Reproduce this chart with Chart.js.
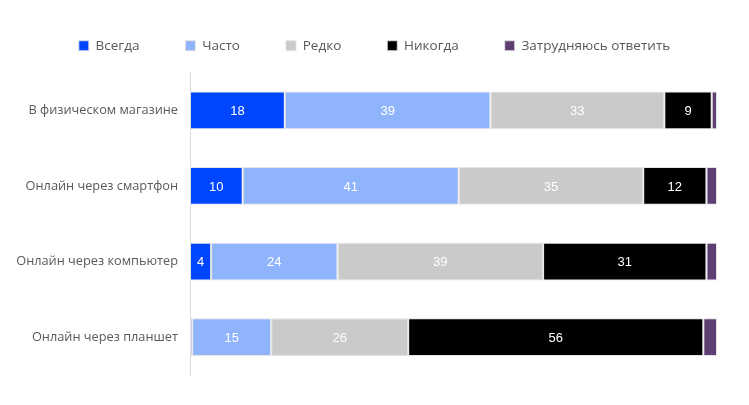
<!DOCTYPE html>
<html>
<head>
<meta charset="utf-8">
<script src="https://cdn.jsdelivr.net/npm/chart.js@4"></script>
<style>
  html, body { margin: 0; padding: 0; background: #fff; }
  #wrap { width: 749px; height: 405px; }
</style>
</head>
<body>
<div id="wrap"><canvas id="myChart" width="749" height="405"></canvas></div>
<script>
// categories and series (percent of respondents)
const categories = ['В физическом магазине', 'Онлайн через смартфон', 'Онлайн через компьютер', 'Онлайн через планшет'];
const seriesNames = ['Всегда', 'Часто', 'Редко', 'Никогда', 'Затрудняюсь ответить'];
const always = [18, 10, 4, 0.4];
const often = [39, 41, 24, 15];
const rarely = [33, 35, 39, 26];
const never = [9, 12, 31, 56];
const hardToSay = [1, 2, 2, 2.6];

const colors = ['#0046ff', '#8fb4fb', '#cacaca', '#000000', '#5f3f73'];
const textGray = '#595959';

// legend spacing tweaks + the numbers in the middle of every segment
const barLabels = {
    id: 'barLabels',
    afterInit(chart) {
        // a bit more room under the legend
        const lg = chart.legend;
        const fit = lg.fit;
        lg.fit = function () { fit.call(this); this.height += 10; };
    },
    afterLayout(chart) {
        // center the legend over the whole canvas, not just the plot side
        chart.legend.left += 16;
        chart.legend.right += 16;
    },
    afterDatasetsDraw(chart) {
        const ctx = chart.ctx;
        ctx.save();
        ctx.font = '13px "Liberation Sans", Arial, sans-serif';
        ctx.fillStyle = '#ffffff';
        ctx.textAlign = 'center';
        ctx.textBaseline = 'middle';
        chart.data.datasets.forEach((ds, i) => {
            if (i == 4) return;
            const meta = chart.getDatasetMeta(i);
            meta.data.forEach((bar, j) => {
                const v = ds.data[j];
                if (v < 2) return;
                const x = (bar.x + bar.base) / 2;
                ctx.fillText(String(v), x, bar.y + 1);
            });
        });
        ctx.restore();
    }
};

const allData = [always, often, rarely, never, hardToSay];

const ctx = document.getElementById('myChart').getContext('2d');
const chart = new Chart(ctx, {
    type: 'bar',
    data: {
        labels: categories,
        datasets: seriesNames.map((name, i) => ({
            label: name,
            data: allData[i],
            backgroundColor: colors[i],
            borderColor: 'rgba(225,225,225,0.9)',
            borderWidth: 1,
            borderSkipped: false,
            barPercentage: 0.5,
            categoryPercentage: 1.0
        }))
    },
    options: {
        indexAxis: 'y',
        responsive: false,
        animation: false,
        layout: { padding: { top: -7, right: 32, bottom: 30, left: 0 } },
        plugins: {
            tooltip: { enabled: false },
            legend: {
                position: 'top',
                labels: {
                    boxWidth: 10,
                    boxHeight: 10,
                    padding: 46,
                    color: textGray,
                    font: { family: '"Open Sans", sans-serif', size: 13.5 }
                }
            }
        },
        scales: {
            x: {
                stacked: true,
                min: 0,
                max: 100,
                display: false
            },
            y: {
                stacked: true,
                grid: { display: false, drawTicks: false },
                border: { display: true, color: '#d9d9d9', width: 1 },
                ticks: {
                    color: textGray,
                    padding: 12,
                    font: { family: '"Open Sans", sans-serif', size: 12.75 }
                },
                afterFit(scale) { scale.width = 190; }
            }
        }
    },
    plugins: [barLabels]
});
</script>
</body>
</html>
